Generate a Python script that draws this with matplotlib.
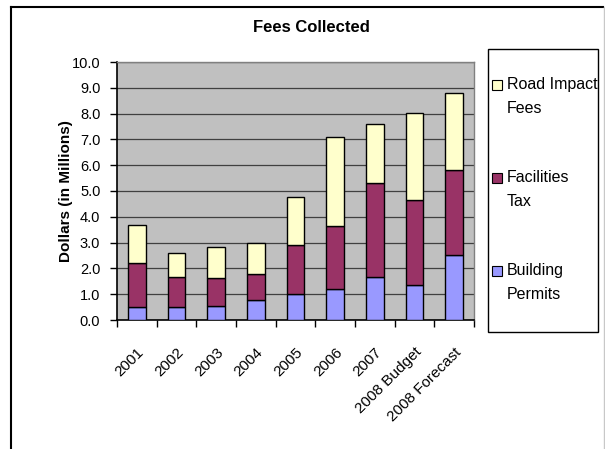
import matplotlib
matplotlib.use("Agg")
import matplotlib.pyplot as plt
from matplotlib.patches import Rectangle
from matplotlib.lines import Line2D
from matplotlib.transforms import ScaledTranslation
import numpy as np

plt.rcParams['font.family'] = ['Liberation Sans', 'DejaVu Sans']

years = ["2001", "2002", "2003", "2004", "2005", "2006", "2007",
         "2008 Budget", "2008 Forecast"]
building_permits = [0.51, 0.51, 0.54, 0.76, 1.02, 1.20, 1.66, 1.35, 2.51]
facilities_tax = [1.69, 1.15, 1.07, 1.01, 1.87, 2.45, 3.64, 3.30, 3.32]
road_impact_fees = [1.50, 0.92, 1.23, 1.20, 1.88, 3.46, 2.29, 3.38, 2.98]
y_ticks = [0, 1, 2, 3, 4, 5, 6, 7, 8, 9, 10]

series = [
    ("Building\nPermits", building_permits, "#9999FF"),
    ("Facilities\nTax", facilities_tax, "#993366"),
    ("Road Impact\nFees", road_impact_fees, "#FFFFCC"),
]

W, H = 605, 449
fig = plt.figure(figsize=(W / 100, H / 100), dpi=100)

def fx(px):
    return px / W

def fy(py):
    return 1 - py / H

# outer chart frame
fig.add_artist(Line2D([fx(11.5), fx(11.5)], [fy(7), 0], color="black", lw=1.5))
fig.add_artist(Line2D([fx(11.5), fx(603)], [fy(7), fy(7)], color="black", lw=1.5))
fig.add_artist(Line2D([fx(603.5), fx(603.5)], [fy(7), 0], color="#c8c8c8", lw=1))

ax = fig.add_axes([fx(117), fy(320), fx(474) - fx(117), (320 - 62) / H])
ax.set_facecolor("#C0C0C0")

x = np.arange(len(years))
bottom = np.zeros(len(years))
for name, vals, col in series:
    v = np.array(vals)
    ax.bar(x, v, width=0.45, bottom=bottom, color=col, edgecolor="black",
           linewidth=1.0, zorder=3)
    bottom += v

ax.set_xlim(-0.5, len(years) - 0.5)
ax.set_ylim(0, 10)
ax.set_yticks(y_ticks)
ax.set_yticklabels([f"{t:.1f}" for t in y_ticks], fontsize=10.5)
ax.yaxis.grid(True, color="#404040", linewidth=0.9, zorder=0)
ax.set_axisbelow(True)
ax.tick_params(axis="y", length=5, width=1, pad=7, direction="out")

ax.set_xticks(x)
ax.set_xticklabels(years, rotation=45, ha="right", rotation_mode="anchor",
                   fontsize=11)
shift = ScaledTranslation(-5 / 72, 0, fig.dpi_scale_trans)
for lbl in ax.get_xticklabels():
    lbl.set_transform(lbl.get_transform() + shift)
ax.set_xticks(np.arange(len(years) + 1) - 0.5, minor=True)
ax.tick_params(axis="x", which="major", length=0, pad=18)
ax.tick_params(axis="x", which="minor", length=5, width=1, direction="out")

for s in ["top", "right"]:
    ax.spines[s].set_color("#808080")
    ax.spines[s].set_linewidth(1)
ax.spines["left"].set_color("black")
ax.spines["bottom"].set_color("black")
ax.spines["left"].set_linewidth(1.2)
ax.spines["bottom"].set_linewidth(1.2)

ax.set_ylabel("Dollars (in Millions)", fontsize=11, fontweight="bold", labelpad=-1)
fig.text(fx(311), fy(27), "Fees Collected", fontsize=12, fontweight="bold",
         ha="center", va="center")

# legend box
fig.add_artist(Rectangle((fx(487.5), fy(332)), fx(598) - fx(487.5), (332 - 49) / H,
                         transform=fig.transFigure, facecolor="white",
                         edgecolor="black", linewidth=1))
legend_y = [96.5, 189.5, 282.5]
for (name, vals, col), ly in zip(series[::-1], legend_y):
    fig.add_artist(Rectangle((fx(492), fy(ly - 11.5 + 5)), 10 / W, 10 / H,
                             transform=fig.transFigure, facecolor=col,
                             edgecolor="black", linewidth=0.8))
    fig.text(fx(507), fy(ly), name, fontsize=11.5, ha="left", va="center",
             linespacing=1.8)

fig.savefig("out.png", dpi=100)
